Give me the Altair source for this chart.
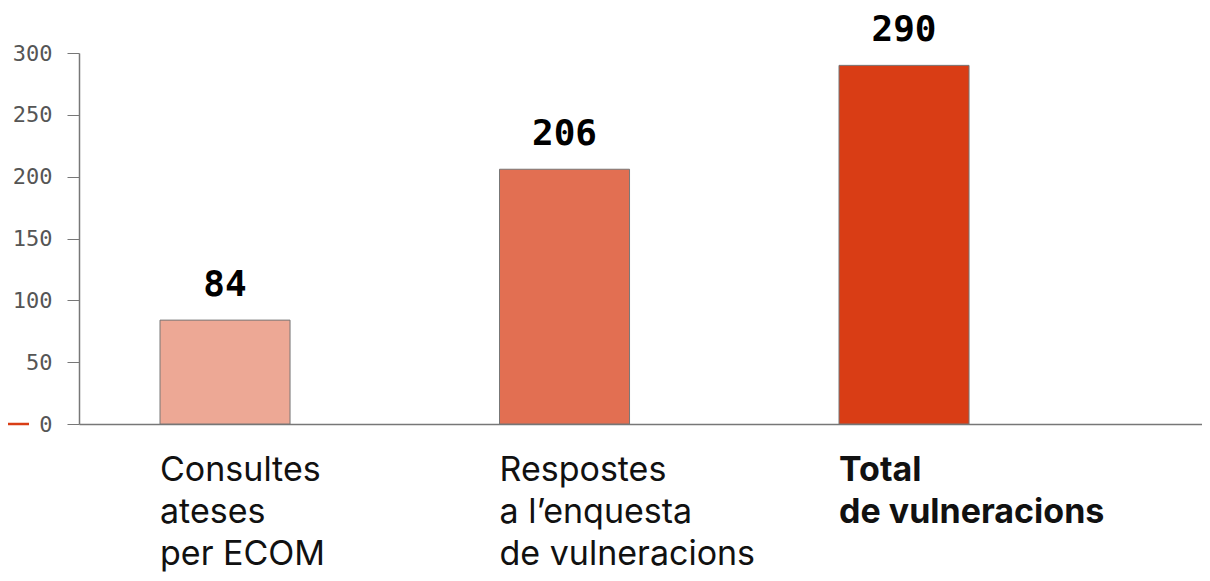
import altair as alt
import pandas as pd

categories = ["Consultes|ateses|per ECOM", "Respostes|a l’enquesta|de vulneracions", "Total|de vulneracions"]
values = [84, 206, 290]
colors = ["#EDA895", "#E26F52", "#D93D15"]

df = pd.DataFrame({"cat": categories, "val": values, "color": colors})

x_enc = alt.X(
    "cat:N",
    sort=categories,
    scale=alt.Scale(paddingInner=0.617, paddingOuter=0.4624, align=0.258),
    axis=alt.Axis(
        title=None,
        labelExpr="split(datum.label, '|')",
        labelAlign="left",
        labelBaseline="top",
        labelOffset=-65,
        labelPadding=29,
        labelFont="Inter",
        labelFontSize=34,
        labelLineHeight=42,
        labelLimit=600,
        labelColor="#111111",
        labelFontWeight={"condition": {"test": "datum.value == 'Total|de vulneracions'", "value": "bold"}, "value": "normal"},
        ticks=False,
        domainColor="#777777",
        domainWidth=1.5,
        labelAngle=0,
    ),
)

y_enc = alt.Y(
    "val:Q",
    scale=alt.Scale(domain=[0, 300], nice=False),
    axis=alt.Axis(
        title=None,
        values=[0, 50, 100, 150, 200, 250, 300],
        grid=False,
        tickSize=12,
        tickColor="#777777",
        domainColor="#777777",
        domainWidth=1.5,
        labelFont="DejaVu Sans Mono",
        labelFontSize=22,
        labelColor="#555555",
        labelPadding=15,
    ),
)

base = alt.Chart(df)

bars = base.mark_bar(stroke="#777777", strokeWidth=1).encode(
    x=x_enc,
    y=y_enc,
    color=alt.Color("color:N", scale=None),
)

labels = base.mark_text(
    font="DejaVu Sans Mono", fontWeight="bold", fontSize=36, color="#000000",
    baseline="alphabetic", dy=-24,
).encode(
    x=alt.X("cat:N", sort=categories),
    y="val:Q",
    text="val:Q",
)

accent = alt.Chart(pd.DataFrame({"v": [0]})).mark_rule(color="#D93D15", strokeWidth=2.5).encode(
    x=alt.value(-71), x2=alt.value(-50), y="v:Q"
)

chart = alt.layer(bars, labels, accent).properties(
    width=1123,
    height=371,
    autosize=alt.AutoSizeParams(type="none"),
    padding={"left": 71, "top": 45, "right": 0, "bottom": 149},
).configure_view(stroke=None)

chart.save("out.html", embed_options={"renderer": "svg", "actions": False})
